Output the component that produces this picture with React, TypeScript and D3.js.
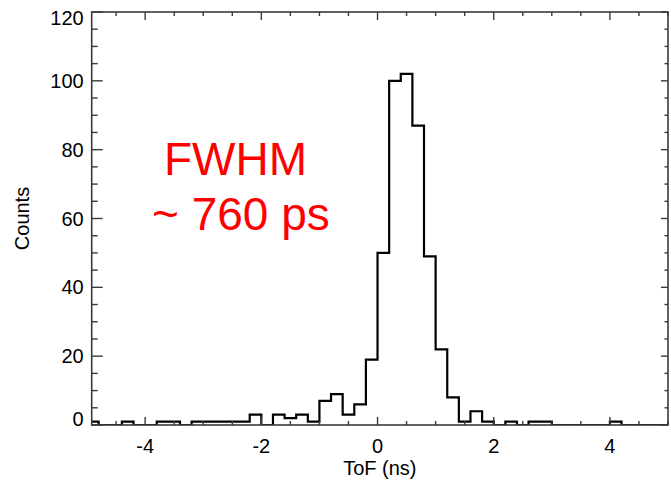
import React, { useRef, useEffect } from "react";
import * as d3 from "d3";

// histogram of time of flight, 0.2 ns bins starting at -5 ns
const binStart = -5;
const binWidth = 0.2;
const counts = [
  1, 0, 0, 1, 0, 0, 1, 1, 0, 1,
  1, 1, 1, 1, 3, 0, 3, 2, 3, 1,
  7, 9, 3, 6, 19, 50, 100, 102, 87, 49,
  22, 8, 1, 4, 1, 0, 1, 0, 1, 1,
  0, 0, 0, 0, 0, 1, 0, 0, 0, 0,
];
const xMajor = [-4, -2, 0, 2, 4];
const yMajor = [0, 20, 40, 60, 80, 100, 120];
const noteLines = ["FWHM", "~ 760 ps"];

const W = 671;
const H = 483;
const FONT = "'Liberation Sans', Arial, Helvetica, sans-serif";

function App() {
  const svgRef = useRef(null);

  useEffect(() => {
    const svg = d3.select(svgRef.current);
    svg.selectAll("*").remove();

    const left = 91.7, right = 668, top = 12, bottom = 425;

    // scales
    const x = d3.scaleLinear().domain([-4.92, 5]).range([left, right]);
    const y = d3.scaleLinear().domain([0, 120]).range([bottom, top]);

    svg.append("defs").append("clipPath").attr("id", "plotClip")
      .append("rect")
      .attr("x", left).attr("y", top - 2)
      .attr("width", right - left).attr("height", bottom - top + 2);

    // step line of the histogram
    const pts = counts.map((c, i) => [binStart + i * binWidth, c]);
    pts.push([binStart + counts.length * binWidth, counts[counts.length - 1]]);
    const step = d3.line()
      .x(d => x(d[0]))
      .y(d => y(d[1]))
      .curve(d3.curveStepAfter);

    svg.append("path")
      .datum(pts)
      .attr("d", step)
      .attr("clip-path", "url(#plotClip)")
      .attr("fill", "none")
      .attr("stroke", "#000")
      .attr("stroke-width", 2.2);

    // frame
    const axisColor = "#3a3a3a";
    svg.append("rect")
      .attr("x", left).attr("y", top)
      .attr("width", right - left).attr("height", bottom - top)
      .attr("fill", "none")
      .attr("stroke", axisColor)
      .attr("stroke-width", 1.6);

    const ticks = svg.append("g").attr("stroke", axisColor).attr("stroke-width", 1.4);

    // x ticks (bottom & top)
    const xMinor = d3.range(-4.5, 5.01, 0.5).filter(v => !xMajor.includes(v));
    xMajor.forEach(v => {
      ticks.append("line").attr("x1", x(v)).attr("x2", x(v)).attr("y1", bottom).attr("y2", bottom - 8);
      ticks.append("line").attr("x1", x(v)).attr("x2", x(v)).attr("y1", top).attr("y2", top + 8);
    });
    xMinor.forEach(v => {
      ticks.append("line").attr("x1", x(v)).attr("x2", x(v)).attr("y1", bottom).attr("y2", bottom - 4);
      ticks.append("line").attr("x1", x(v)).attr("x2", x(v)).attr("y1", top).attr("y2", top + 4);
    });

    // y ticks (left & right)
    const yMinor = d3.range(5, 120, 5).filter(v => !yMajor.includes(v));
    yMajor.forEach(v => {
      ticks.append("line").attr("x1", left).attr("x2", left + 11).attr("y1", y(v)).attr("y2", y(v));
      ticks.append("line").attr("x1", right).attr("x2", right - 7).attr("y1", y(v)).attr("y2", y(v));
    });
    yMinor.forEach(v => {
      ticks.append("line").attr("x1", left).attr("x2", left + 6).attr("y1", y(v)).attr("y2", y(v));
      ticks.append("line").attr("x1", right).attr("x2", right - 3.5).attr("y1", y(v)).attr("y2", y(v));
    });

    // tick labels
    svg.append("g")
      .selectAll("text")
      .data(xMajor)
      .join("text")
      .attr("x", d => x(d))
      .attr("y", bottom + 28)
      .attr("text-anchor", "middle")
      .attr("font-family", FONT)
      .attr("font-size", 20)
      .text(d => d);

    svg.append("g")
      .selectAll("text")
      .data(yMajor)
      .join("text")
      .attr("x", left - 8)
      .attr("y", d => Math.min(Math.max(y(d), top + 6), bottom - 6) + 7)
      .attr("text-anchor", "end")
      .attr("font-family", FONT)
      .attr("font-size", 20)
      .text(d => d);

    // axis titles
    svg.append("text")
      .attr("x", (left + right) / 2)
      .attr("y", 475)
      .attr("text-anchor", "middle")
      .attr("font-family", FONT)
      .attr("font-size", 20)
      .text("ToF (ns)");

    svg.append("text")
      .attr("transform", `translate(29, ${(top + bottom) / 2}) rotate(-90)`)
      .attr("text-anchor", "middle")
      .attr("font-family", FONT)
      .attr("font-size", 20)
      .text("Counts");

    // FWHM note
    svg.append("g")
      .selectAll("text")
      .data(noteLines)
      .join("text")
      .attr("x", (d, i) => (i === 0 ? 164 : 152))
      .attr("y", (d, i) => 175 + i * 55)
      .attr("fill", "#ff0000")
      .attr("font-family", FONT)
      .attr("font-size", 46)
      .text(d => d);
  }, []);

  return (
    <svg
      ref={svgRef}
      width={W}
      height={H}
      style={{ position: "absolute", left: 0, top: 0, background: "#fff" }}
    />
  );
}

export default App;
